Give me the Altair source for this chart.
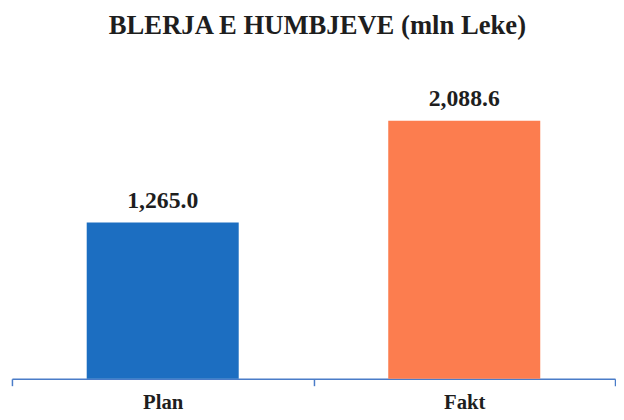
import altair as alt
import pandas as pd

categories = ["Plan", "Fakt"]
values = [1265.0, 2088.6]
colors = ["#1C6EC1", "#FC7D4F"]

df = pd.DataFrame({"cat": categories, "val": values, "color": colors})

SERIF = "Liberation Serif"

base = alt.Chart(df).encode(
    x=alt.X("cat:N", sort=categories, title=None,
            scale=alt.Scale(paddingInner=0, paddingOuter=0),
            axis=alt.Axis(labelAngle=0, labelFont=SERIF, labelFontSize=21,
                          labelFontWeight="bold", labelColor="#1E1E1E",
                          labelPadding=6, tickBand="extent", tickSize=7,
                          tickColor="#4A7CC8", domainColor="#4A7CC8",
                          domainWidth=1.5, tickWidth=1.5)),
    y=alt.Y("val:Q", title=None, scale=alt.Scale(domain=[0, 2500]), axis=None),
)

bars = base.mark_bar(size=154).encode(
    color=alt.Color("color:N", scale=None)
)

labels = base.mark_text(baseline="alphabetic", dy=-15, font=SERIF, fontSize=24,
                        fontWeight="bold", color="#1E1E1E").encode(
    text=alt.Text("val:Q", format=",.1f")
)

chart = (bars + labels).properties(
    width=611, height=313,
    title=alt.Title("BLERJA E HUMBJEVE (mln Leke)", font=SERIF, fontSize=27,
                    fontWeight="bold", color="#1E1E1E", anchor="middle",
                    offset=30, dx=4),
    autosize=alt.AutoSizeParams(type="none"),
    padding={"left": 4, "top": 60, "right": 1, "bottom": 31},
).configure_view(stroke=None)

chart.save("out.html", embed_options={"renderer": "svg", "actions": False})
